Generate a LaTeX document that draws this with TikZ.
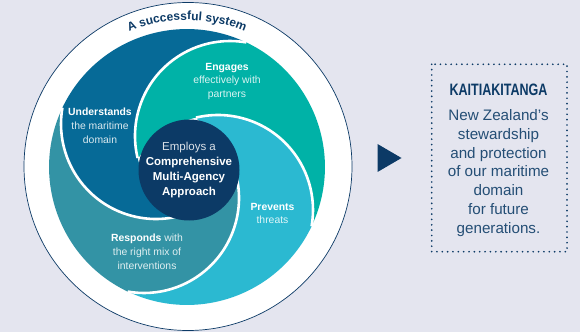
\documentclass[tikz,border=0pt]{standalone}
\usepackage{fontspec}
\usepackage{graphicx}
\setmainfont{Liberation Sans}
\usetikzlibrary{decorations.text}
\definecolor{bgc}{HTML}{E4E5EF}
\definecolor{navy}{HTML}{0C3A66}
\definecolor{cU}{HTML}{066A97}
\definecolor{cE}{HTML}{00B2A7}
\definecolor{cP}{HTML}{2BB9D1}
\definecolor{cR}{HTML}{3393A5}
\tikzset{
  petallabel/.style={text=white,align=center,inner sep=0pt,font=\fontsize{10.4}{13.9}\selectfont},
  corelabel/.style={text=white,align=center,inner sep=0pt,font=\fontsize{11.5}{15}\selectfont},
  whitearc/.style={draw=white,line width=2.6pt},
  bodytext/.style={text=navy!90!white,align=center,inner sep=0pt,font=\fontsize{15.2}{18.8}\selectfont}
}
\begin{document}
\begin{tikzpicture}[x=1pt,y=1pt]
\fill[bgc] (0,0) rectangle (580,332);
\useasboundingbox (0,0) rectangle (580,332);
\fill[white,draw=navy,line width=0.7pt] (188,165.5) circle[radius=164];
% petals
\foreach \rot/\col in {0/cE,-90/cP,-180/cR,-270/cU}{
  \begin{scope}[shift={(187,165)},rotate=\rot]
    \fill[\col] (43,31) ++(193.4:95pt) arc[start angle=193.4,end angle=80.1,radius=95pt]
       arc[start angle=64.5,end angle=-25.5,radius=138pt]
       arc[start angle=-9.9,end angle=147,radius=95pt] -- cycle;
  \end{scope}
}
\foreach \rot in {0,-90,-180,-270}{
  \begin{scope}[shift={(187,165)},rotate=\rot]
    \draw[whitearc] (43,31) ++(193.4:95pt) arc[start angle=193.4,end angle=80.1,radius=95pt];
  \end{scope}
}
\node[circle,fill=navy,minimum size=101pt,inner sep=0pt] (core) at (189,162) {};
% curved title
\path[decorate,decoration={text along path,text align=center,
   text={|\fontsize{12}{14}\selectfont\bfseries\color{navy}|A successful system}}]
   (187,165.5) ++(125:146.5pt) arc[start angle=125,end angle=55,radius=146.5pt];
% labels
\node[petallabel] (engages) at (227,250.5) {\textbf{Engages}\\\textcolor{white!85!cE}{effectively with}\\\textcolor{white!85!cE}{partners}};
\node[petallabel] (understands) at (100,206.5) {\textbf{Understands}\\\textcolor{white!85!cU}{the maritime}\\\textcolor{white!85!cU}{domain}};
\node[corelabel] (coretext) at (189,161.5) {\textcolor{white!85!navy}{Employs a}\\\textbf{Comprehensive}\\\textbf{Multi-Agency}\\\textbf{Approach}};
\node[petallabel] (prevents) at (272.5,118.5) {\textbf{Prevents}\\\textcolor{white!85!cP}{threats}};
\node[petallabel] (responds) at (147,80) {\textbf{Responds} \textcolor{white!85!cR}{with}\\\textcolor{white!85!cR}{the right mix of}\\\textcolor{white!85!cR}{interventions}};
% arrow
\fill[navy] (377.5,188) coordinate (t1) -- (401.5,174) coordinate (t2) -- (377.5,160) coordinate (t3) -- cycle;
% box
\draw[navy,line width=1.9pt,line cap=round,dash pattern=on 0pt off 5.35pt] (431.7,267.7) rectangle (567,80.3);
\node[inner sep=0pt,text=navy] (title) at (498.5,242) {\scalebox{0.76}[1]{\fontsize{16.5}{18}\selectfont\bfseries KAITIAKITANGA}};
\node[bodytext] (body) at (498.5,159) {New Zealand’s\\stewardship\\and protection\\of our maritime\\domain\\for future\\generations.};
\end{tikzpicture}
\end{document}
